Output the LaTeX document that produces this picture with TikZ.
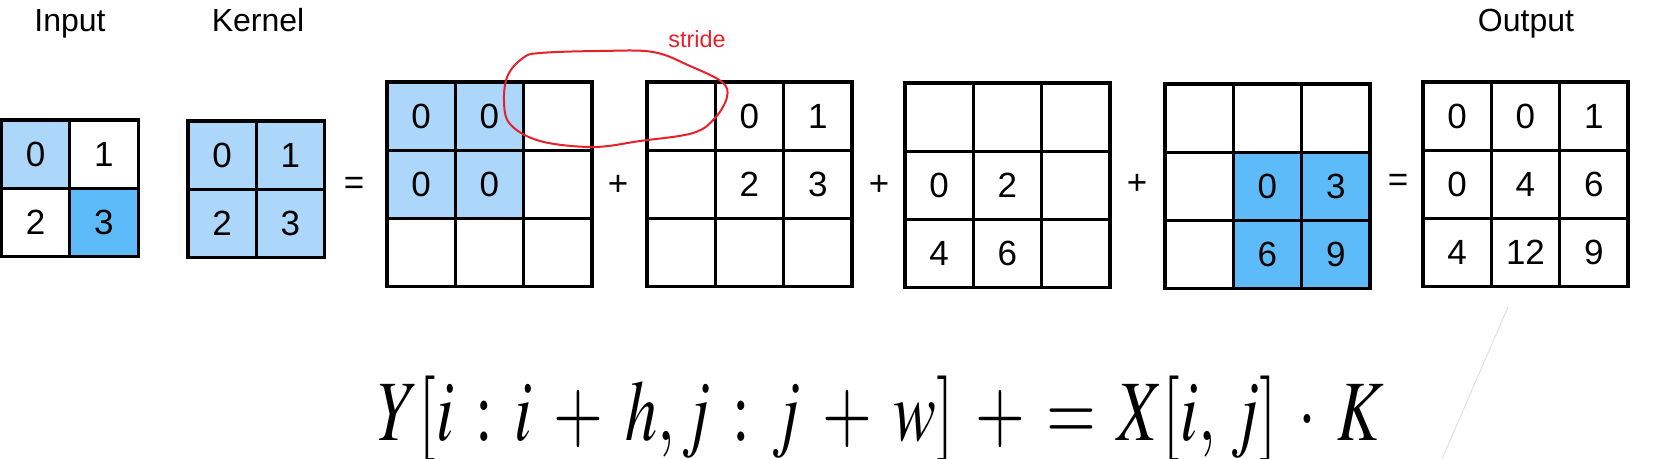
\documentclass[tikz,border=0pt]{standalone}
\usepackage{mathptmx}
\usepackage{fontspec}
\setmainfont{Liberation Sans}
\usepackage{graphicx}
\definecolor{lb}{HTML}{ADD6FB}
\definecolor{db}{HTML}{5EBBF9}
\definecolor{annot}{HTML}{E8202A}
\def\cellsz{68.3}
\newcommand\drawgrid[4]{%
  \foreach \r/\c/\v/\f in {#4} {
    \node[cellbox, fill=\f] (#1-\r-\c) at ({#2+(\c-0.5)*\cellsz},{#3+(\r-0.5)*\cellsz}) {\v};
  }}
\begin{document}
\begin{tikzpicture}[x=0.5pt,y=-0.5pt,
  cellbox/.style={draw=black, line width=1.6pt, minimum size=34.15pt, inner sep=0pt, font=\fontsize{17.5}{20}\selectfont},
  lbl/.style={font=\fontsize{16}{19}\selectfont, anchor=base, inner sep=0pt},
  op/.style={font=\fontsize{17.5}{20}\selectfont, inner sep=0pt},
  annotline/.style={draw=annot, line width=1pt},
]
\useasboundingbox (0,0) rectangle (1669,459);

% Input
\drawgrid{in}{1.5}{120}{1/1/0/lb, 1/2/1/white, 2/1/2/white, 2/2/3/db}
% Kernel
\drawgrid{ker}{188}{121}{1/1/0/lb, 1/2/1/lb, 2/1/2/lb, 2/2/3/lb}
% Step 1
\drawgrid{ga}{387}{82}{1/1/0/lb, 1/2/0/lb, 1/3/{}/white, 2/1/0/lb, 2/2/0/lb, 2/3/{}/white, 3/1/{}/white, 3/2/{}/white, 3/3/{}/white}
% Step 2
\drawgrid{gb}{647}{82}{1/1/{}/white, 1/2/0/white, 1/3/1/white, 2/1/{}/white, 2/2/2/white, 2/3/3/white, 3/1/{}/white, 3/2/{}/white, 3/3/{}/white}
% Step 3
\drawgrid{gc}{905}{83}{1/1/{}/white, 1/2/{}/white, 1/3/{}/white, 2/1/0/white, 2/2/2/white, 2/3/{}/white, 3/1/4/white, 3/2/6/white, 3/3/{}/white}
% Step 4
\drawgrid{gd}{1165}{84}{1/1/{}/white, 1/2/{}/white, 1/3/{}/white, 2/1/{}/white, 2/2/0/db, 2/3/3/db, 3/1/{}/white, 3/2/6/db, 3/3/9/db}
% Output
\drawgrid{out}{1423}{82}{1/1/0/white, 1/2/0/white, 1/3/1/white, 2/1/0/white, 2/2/4/white, 2/3/6/white, 3/1/4/white, 3/2/12/white, 3/3/9/white}

% labels
\node[lbl] (linput) at (70,32) {Input};
\node[lbl] (lkernel) at (258,32) {Kernel};
\node[lbl] (loutput) at (1526,32) {Output};

% operators
\node[op] (eq1) at (354,186) {=};
\node[op] (plus1) at (618,185) {+};
\node[op] (plus2) at (879,185) {+};
\node[op] (plus3) at (1137,184) {+};
\node[op] (eq2) at (1398,183) {=};

% stride annotation
\draw[annotline] plot[smooth cycle, tension=0.6] coordinates {(540,53) (600,51) (653,52) (690,66) (722,82) (727,97) (715,118) (693,133) (640,141) (593,147) (540,141) (510,124) (504,100) (508,75) (523,58)};
\node[text=annot, font=\fontsize{11.7}{14}\selectfont, anchor=base, inner sep=0pt] (stride) at (697,48) {stride};

% faint line
\coordinate (fa) at (1508,307);
\coordinate (fb) at (1442,459);
\draw[draw=black!12, line width=0.5pt] (fa) -- (fb);

% formula
\node[anchor=base, inner sep=0pt] (formula) at (881,440) {\resizebox{503pt}{\height}{\fontsize{43}{50}\selectfont\medmuskip=6mu\thickmuskip=6mu $Y[i : i + h, j : j + w]\mskip6mu{+}\mskip6mu{=}\mskip6mu X[i,\, j] \cdot K$}};
\end{tikzpicture}
\end{document}
